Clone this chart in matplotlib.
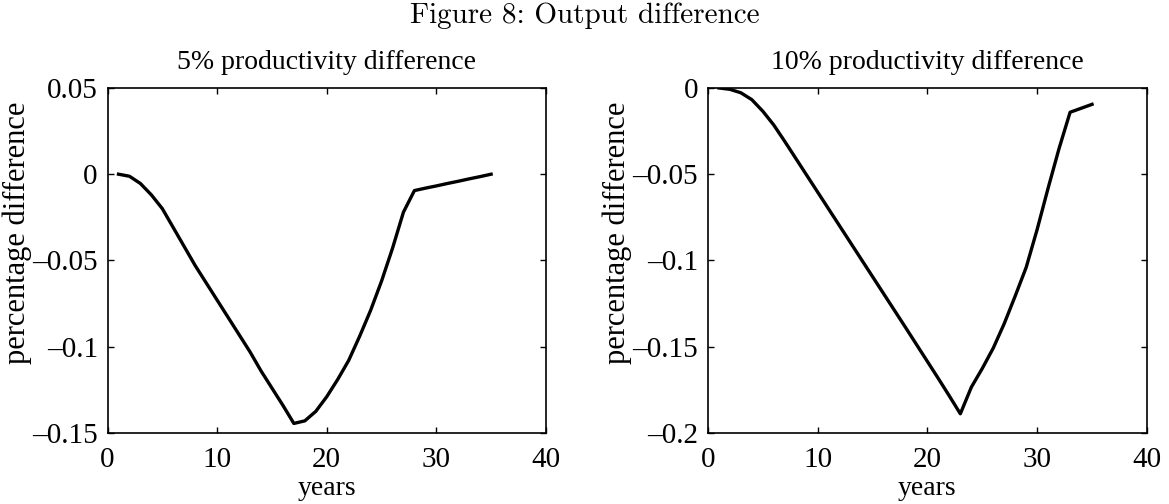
import matplotlib as mpl
mpl.use('Agg')

import matplotlib.pyplot as plt

# %% data
years = list(range(1, 36))

diff_5 = [0.0, -0.0012, -0.0054, -0.012, -0.020, -0.031, -0.042, -0.053,
          -0.063, -0.073, -0.083, -0.093, -0.103, -0.114, -0.124, -0.134,
          -0.1445, -0.143, -0.1375, -0.129, -0.119, -0.108, -0.094, -0.079,
          -0.062, -0.043, -0.022, -0.0095, -0.0081, -0.0068, -0.0054,
          -0.0041, -0.0027, -0.0014, 0.0]

diff_10 = [0.0, -0.0008, -0.0028, -0.0068, -0.0135, -0.0215, -0.031,
           -0.0408, -0.0506, -0.0604, -0.0702, -0.080, -0.0898, -0.0996,
           -0.1094, -0.1192, -0.129, -0.1388, -0.1487, -0.1586, -0.1685,
           -0.1786, -0.1889, -0.1735, -0.1626, -0.1508, -0.1366, -0.1206,
           -0.104, -0.082, -0.058, -0.035, -0.0141, -0.0118, -0.0095]

titles = ['5% productivity difference', '10% productivity difference']
xticks = [0, 10, 20, 30, 40]
yticks_5 = [0.05, 0, -0.05, -0.1, -0.15]
yticks_10 = [0, -0.05, -0.1, -0.15, -0.2]
ylabels_5 = ['0.05', '0', '\u20130.05', '\u20130.1', '\u20130.15']
ylabels_10 = ['0', '\u20130.05', '\u20130.1', '\u20130.15', '\u20130.2']

# %%
plt.rcParams.update({'font.family': 'Liberation Serif', 'font.size': 20})

fig = plt.figure(figsize=[11.69, 5.04], dpi=100)

fig.text(0.5, 0.995, 'Figure 8: Output difference', ha='center', va='top',
         fontsize=21, family='cmr10')

ax1 = fig.add_axes([0.092, 0.141, 0.375, 0.6845])
ax2 = fig.add_axes([0.6056, 0.141, 0.3755, 0.6845])

panels = [(ax1, diff_5, yticks_5, ylabels_5, titles[0]),
          (ax2, diff_10, yticks_10, ylabels_10, titles[1])]

for ax, vals, yt, yl, ttl in panels:
    ax.plot(years, vals, color='black', linewidth=2.4)
    ax.set_xlim(0, 40)
    ax.set_ylim(min(yt), max(yt))
    ax.set_xticks(xticks)
    ax.set_yticks(yt)
    ax.set_yticklabels(yl)
    ax.tick_params(direction='in', top=True, right=True, length=4,
                   width=1.0, labelsize=21)
    ax.tick_params(axis='x', pad=10)
    ax.tick_params(axis='y', pad=7)
    for s in ax.spines.values():
        s.set_linewidth(1.2)
    ax.set_xlabel('years', fontsize=20, labelpad=2)
    ax.set_ylabel('percentage difference', fontsize=22)
    ax.yaxis.set_label_coords(-0.172, 0.58)
    ax.set_title(ttl, fontsize=20, pad=14)

plt.savefig('out.png', dpi=100)
